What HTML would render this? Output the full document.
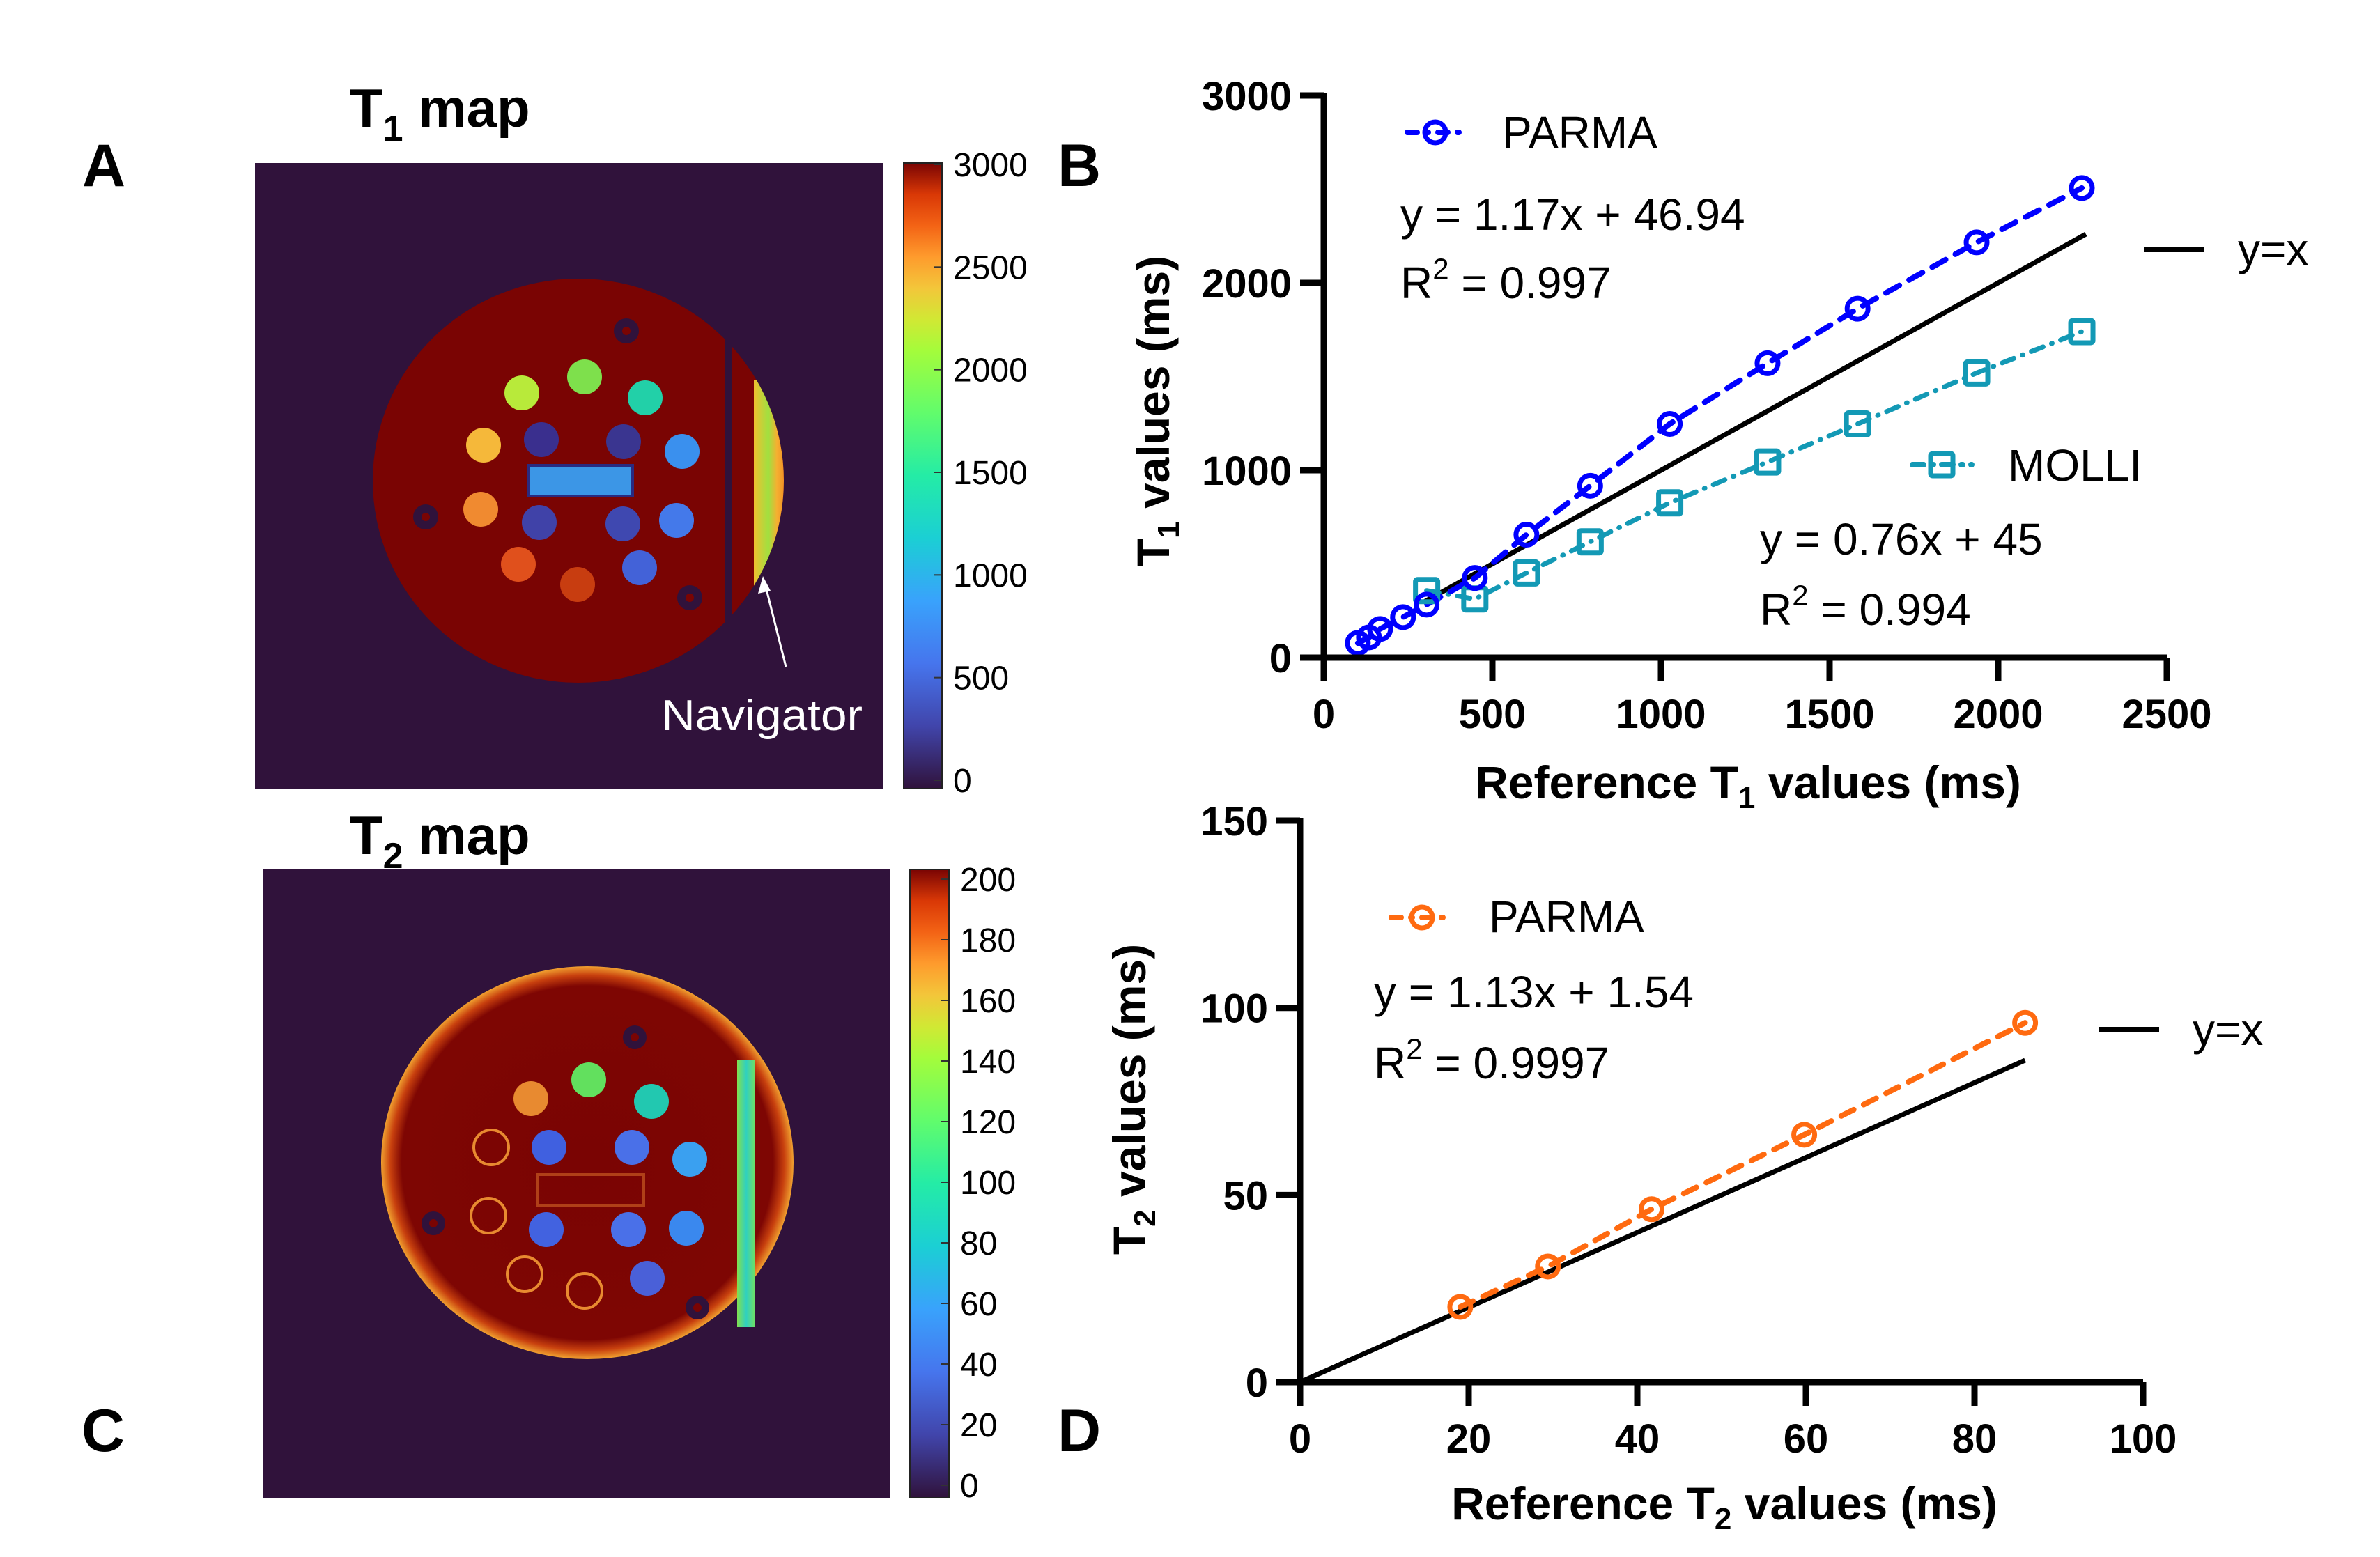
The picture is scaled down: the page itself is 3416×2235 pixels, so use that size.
<!DOCTYPE html>
<html><head><meta charset="utf-8"><style>
html,body{margin:0;padding:0;background:#fff;}
svg{display:block;font-family:"Liberation Sans",sans-serif;}
</style></head><body>
<svg id="fig" width="3416" height="2235" viewBox="0 0 3416 2235" xmlns="http://www.w3.org/2000/svg">
<defs>
<linearGradient id="turbo" x1="0" y1="1" x2="0" y2="0">
<stop offset="0" stop-color="#30123b"/><stop offset="0.1" stop-color="#4145ab"/><stop offset="0.2" stop-color="#4675ed"/><stop offset="0.3" stop-color="#39a2fc"/><stop offset="0.4" stop-color="#1bcfd4"/><stop offset="0.5" stop-color="#24eca6"/><stop offset="0.6" stop-color="#61fc6c"/><stop offset="0.7" stop-color="#a4fc3b"/><stop offset="0.75" stop-color="#d1e834"/><stop offset="0.8" stop-color="#f3c63a"/><stop offset="0.85" stop-color="#fe9b2d"/><stop offset="0.9" stop-color="#f36315"/><stop offset="0.95" stop-color="#d93806"/><stop offset="1" stop-color="#7a0403"/>
</linearGradient>
<radialGradient id="t2rim" cx="0.5" cy="0.5" r="0.5">
<stop offset="0" stop-color="#7a0403"/><stop offset="0.9" stop-color="#7e0603"/><stop offset="0.955" stop-color="#c8400e"/><stop offset="1" stop-color="#f0a030"/>
</radialGradient>
<linearGradient id="nav1" x1="0" y1="0" x2="1" y2="0">
<stop offset="0" stop-color="#f0c030"/><stop offset="0.35" stop-color="#a0e040"/><stop offset="0.55" stop-color="#f5b030"/><stop offset="1" stop-color="#e86018"/>
</linearGradient>
<linearGradient id="nav2" x1="0" y1="0" x2="1" y2="0">
<stop offset="0" stop-color="#80e050"/><stop offset="0.5" stop-color="#30d0c0"/><stop offset="1" stop-color="#70e060"/>
</linearGradient>
<clipPath id="clipT1main"><rect x="300" y="300" width="741" height="800"/></clipPath>
<clipPath id="clipT1side"><rect x="1050" y="300" width="200" height="800"/></clipPath>
<clipPath id="clipEll"><ellipse cx="830" cy="690" rx="295" ry="290"/></clipPath>
</defs>

<text x="118" y="267" font-size="86" font-weight="bold">A</text>
<text x="1518" y="267" font-size="86" font-weight="bold">B</text>
<text x="117" y="2083" font-size="86" font-weight="bold">C</text>
<text x="1518" y="2083" font-size="86" font-weight="bold">D</text>

<g>
<text x="502" y="182" font-size="78" font-weight="bold">T<tspan font-size="52" dy="20">1</tspan><tspan dy="-20"> map</tspan></text>
<rect x="366" y="234" width="901" height="898" fill="#30123b"/>
<ellipse cx="830" cy="690" rx="295" ry="290" fill="#7a0403" clip-path="url(#clipT1main)"/>
<ellipse cx="830" cy="690" rx="295" ry="290" fill="#7a0403" clip-path="url(#clipT1side)"/>
<rect x="1082" y="545" width="60" height="310" fill="url(#nav1)" clip-path="url(#clipEll)"/>
<g id="t1vials"></g>
<line x1="1128" y1="957" x2="1098" y2="838" stroke="#fff" stroke-width="3"/>
<polygon points="1095,827 1088,852 1106,848" fill="#fff"/>
<text x="949" y="1048" font-size="62" fill="#fff" textLength="289" lengthAdjust="spacingAndGlyphs">Navigator</text>
<rect x="1297" y="234" width="55" height="898" fill="url(#turbo)" stroke="#222" stroke-width="2"/>
<g id="t1cb"></g>
</g>

<g>
<text x="502" y="1226" font-size="78" font-weight="bold">T<tspan font-size="52" dy="20">2</tspan><tspan dy="-20"> map</tspan></text>
<rect x="377" y="1248" width="900" height="902" fill="#30123b"/>
<ellipse cx="843" cy="1669" rx="296" ry="282" fill="url(#t2rim)"/>
<rect x="1058" y="1522" width="26" height="383" fill="url(#nav2)"/>
<rect x="771" y="1686" width="153" height="44" fill="none" stroke="#b04018" stroke-width="4"/>
<g id="t2vials"></g>
<rect x="1306" y="1248" width="56" height="902" fill="url(#turbo)" stroke="#222" stroke-width="2"/>
<g id="t2cb"></g>
</g>

<g id="chartB"></g>
<g id="chartD"></g>
</svg>
<script>
const t1RefParma = [101,134,167,235,305,448,601,790,1026,1316,1583,1936,2248];
const t1Parma = [78,108,153,216,283,425,656,917,1247,1571,1862,2216,2506];
const t1RefMolli = [305,448,601,790,1026,1316,1583,1936,2248];
const t1Molli = [358,313,452,618,826,1044,1247,1519,1740];
const t1IdentityRange = [300,2260];
const t1XTicks = [0,500,1000,1500,2000,2500];
const t1YTicks = [0,1000,2000,3000];
const t2Ref = [19.0,29.4,41.7,59.8,86.0];
const t2Parma = [20.1,30.9,46.2,66.1,96.0];
const t2IdentityRange = [0,86];
const t2XTicks = [0,20,40,60,80,100];
const t2YTicks = [0,50,100,150];
const t1CbLabels = [3000,2500,2000,1500,1000,500,0];
const t2CbLabels = [200,180,160,140,120,100,80,60,40,20,0];

const NS = "http://www.w3.org/2000/svg";
function mk(tag, attrs, parent){
  const e = document.createElementNS(NS, tag);
  for (const k in attrs) e.setAttribute(k, attrs[k]);
  parent.appendChild(e);
  return e;
}
const bx = v => 1900 + v * 0.484;
const by = v => 944 - v * 0.269;
const dx = v => 1866 + v * 12.1;
const dy = v => 1984 - v * 5.373;

function drawAxes(g, fx, fy, xt, yt, xMax, yMax, xMin0, prefix){
  const x0 = fx(0), y0 = fy(0);
  let e = mk('line', {x1:x0-34, y1:y0, x2:fx(xMax), y2:y0, stroke:'#000','stroke-width':9}, g);
  
  
  e = mk('line', {x1:x0, y1:fy(yMax)-4, x2:x0, y2:y0+34, stroke:'#000','stroke-width':9}, g);
  
  
  xt.forEach(v => {
    const t = mk('line', {x1:fx(v), y1:y0, x2:fx(v), y2:y0+34, stroke:'#000','stroke-width':9}, g);
    
    
    const l = mk('text', {x:fx(v), y:y0+101, 'font-size':58, 'font-weight':'bold', 'text-anchor':'middle'}, g);
    l.textContent = v;
    
    
  });
  yt.forEach(v => {
    const t = mk('line', {x1:x0-34, y1:fy(v), x2:x0, y2:fy(v), stroke:'#000','stroke-width':9}, g);
    
    
    const l = mk('text', {x:x0-46, y:fy(v)+21, 'font-size':58, 'font-weight':'bold', 'text-anchor':'end'}, g);
    l.textContent = v;
    
    
  });
}
function polyline(g, xs, ys, fx, fy, attrs, name){
  const pts = xs.map((x,i) => fx(x) + ',' + fy(ys[i])).join(' ');
  const p = mk('polyline', Object.assign({points:pts, fill:'none'}, attrs), g);
  
  
}
function circles(g, xs, ys, fx, fy, color, name){
  xs.forEach((x,i) => {
    const c = mk('circle', {cx:fx(x), cy:fy(ys[i]), r:15, fill:'none', stroke:color, 'stroke-width':7}, g);
    
    
  });
}
function squares(g, xs, ys, fx, fy, color, name){
  xs.forEach((x,i) => {
    const s = mk('rect', {x:fx(x)-16, y:fy(ys[i])-16, width:32, height:32, rx:3, fill:'none', stroke:color, 'stroke-width':7}, g);
    
    
  });
}
function text(g, x, y, size, str, weight, name, extra){
  const t = mk('text', Object.assign({x:x, y:y, 'font-size':size, 'font-weight':weight||'normal'}, extra||{}), g);
  t.innerHTML = str;
  
  
  return t;
}

const gB = document.getElementById('chartB');
const BLUE = '#0000ff', TEAL = '#1399b5', ORANGE = '#ff6a10';
polyline(gB, t1IdentityRange, t1IdentityRange, bx, by, {stroke:'#000','stroke-width':7}, 't1-identity-line');
polyline(gB, t1RefMolli, t1Molli, bx, by, {stroke:TEAL,'stroke-width':7,'stroke-dasharray':'18 13 1 13','stroke-linecap':'round'}, 'molli-line');
polyline(gB, t1RefParma, t1Parma, bx, by, {stroke:BLUE,'stroke-width':8,'stroke-dasharray':'22 16','stroke-linecap':'round'}, 'parma-t1-line');
squares(gB, t1RefMolli, t1Molli, bx, by, TEAL, 'molli-point');
circles(gB, t1RefParma, t1Parma, bx, by, BLUE, 'parma-t1-point');
drawAxes(gB, bx, by, t1XTicks, t1YTicks, 2500, 3000, 0, 't1-chart');
text(gB, 2509, 1146, 66, 'Reference T<tspan font-size="44" dy="14">1</tspan><tspan dy="-14"> values (ms)</tspan>', 'bold', 't1-x-axis-title', {'text-anchor':'middle'});
text(gB, 0, 0, 66, 'T<tspan font-size="44" dy="14">1</tspan><tspan dy="-14"> values (ms)</tspan>', 'bold', 't1-y-axis-title', {'text-anchor':'middle', transform:'translate(1678,590) rotate(-90)'});
let lg = mk('g', {}, gB);


mk('line', {x1:2020, y1:190, x2:2102, y2:190, stroke:BLUE, 'stroke-width':8, 'stroke-dasharray':'14 14 2 14', 'stroke-linecap':'round'}, lg);
mk('circle', {cx:2060, cy:190, r:15, fill:'none', stroke:BLUE, 'stroke-width':7}, lg);
text(lg, 2156, 212, 64, 'PARMA', 'normal', 'legend-parma-t1-label');
text(gB, 2010, 330, 64, 'y = 1.17x + 46.94', 'normal', 'parma-t1-equation');
text(gB, 2010, 428, 64, 'R<tspan font-size="42" dy="-28">2</tspan><tspan dy="28"> = 0.997</tspan>', 'normal', 'parma-t1-r2');
lg = mk('g', {}, gB);


mk('line', {x1:3077, y1:358, x2:3163, y2:358, stroke:'#000', 'stroke-width':8}, lg);
text(lg, 3212, 380, 64, 'y=x', 'normal', 'legend-identity-t1-label');
lg = mk('g', {}, gB);


mk('line', {x1:2745, y1:667, x2:2830, y2:667, stroke:TEAL, 'stroke-width':8, 'stroke-dasharray':'16 12 2 12', 'stroke-linecap':'round'}, lg);
mk('rect', {x:2771, y:651, width:32, height:32, rx:3, fill:'none', stroke:TEAL, 'stroke-width':7}, lg);
text(lg, 2882, 690, 64, 'MOLLI', 'normal', 'legend-molli-label');
text(gB, 2526, 796, 64, 'y = 0.76x + 45', 'normal', 'molli-equation');
text(gB, 2526, 897, 64, 'R<tspan font-size="42" dy="-28">2</tspan><tspan dy="28"> = 0.994</tspan>', 'normal', 'molli-r2');

const gD = document.getElementById('chartD');
polyline(gD, t2IdentityRange, t2IdentityRange, dx, dy, {stroke:'#000','stroke-width':7}, 't2-identity-line');
polyline(gD, t2Ref, t2Parma, dx, dy, {stroke:ORANGE,'stroke-width':8,'stroke-dasharray':'20 16','stroke-linecap':'round'}, 'parma-t2-line');
circles(gD, t2Ref, t2Parma, dx, dy, ORANGE, 'parma-t2-point');
drawAxes(gD, dx, dy, t2XTicks, t2YTicks, 100, 150, 0, 't2-chart');
text(gD, 2475, 2181, 66, 'Reference T<tspan font-size="44" dy="14">2</tspan><tspan dy="-14"> values (ms)</tspan>', 'bold', 't2-x-axis-title', {'text-anchor':'middle'});
text(gD, 0, 0, 66, 'T<tspan font-size="44" dy="14">2</tspan><tspan dy="-14"> values (ms)</tspan>', 'bold', 't2-y-axis-title', {'text-anchor':'middle', transform:'translate(1644,1578) rotate(-90)'});
lg = mk('g', {}, gD);


mk('line', {x1:1997, y1:1317, x2:2083, y2:1317, stroke:ORANGE, 'stroke-width':8, 'stroke-dasharray':'14 14 2 14', 'stroke-linecap':'round'}, lg);
mk('circle', {cx:2041, cy:1317, r:15, fill:'none', stroke:ORANGE, 'stroke-width':7}, lg);
text(lg, 2137, 1338, 64, 'PARMA', 'normal', 'legend-parma-t2-label');
text(gD, 1972, 1446, 64, 'y = 1.13x + 1.54', 'normal', 'parma-t2-equation');
text(gD, 1972, 1548, 64, 'R<tspan font-size="42" dy="-28">2</tspan><tspan dy="28"> = 0.9997</tspan>', 'normal', 'parma-t2-r2');
lg = mk('g', {}, gD);


mk('line', {x1:3013, y1:1478, x2:3099, y2:1478, stroke:'#000', 'stroke-width':8}, lg);
text(lg, 3147, 1500, 64, 'y=x', 'normal', 'legend-identity-t2-label');

function colorbar(gid, labels, top, bottom, x, prefix){
  const g = document.getElementById(gid);
  labels.forEach((v,i) => {
    const y = top + (bottom - top) * i / (labels.length - 1);
    const t = mk('line', {x1:x-14, y1:y, x2:x-4, y2:y, stroke:'#333','stroke-width':2}, g);
    
    
    const l = mk('text', {x:x+14, y:y+17, 'font-size':48}, g);
    l.textContent = v;
    
    
  });
}
colorbar('t1cb', t1CbLabels, 236, 1120, 1354, 't1-colorbar');
colorbar('t2cb', t2CbLabels, 1262, 2132, 1364, 't2-colorbar');

const t1VialX = [839,749,926,694,777,895,979,690,774,894,971,744,829,918];
const t1VialY = [541,564,571,639,631,634,648,731,750,752,747,810,839,815];
const t1VialC = ['#7ee04c','#b8ea3a','#22d0a8','#f5b83a','#3a2f8e','#3a3590','#3a90ee','#f08a30','#4042a8','#3f48b0','#4479ea','#e0501c','#c83d10','#4362d8'];
const gv1 = document.getElementById('t1vials');
t1VialX.forEach((x,i) => {
  const c = mk('circle', {cx:x, cy:t1VialY[i], r:25, fill:t1VialC[i]}, gv1);
  
  
});
let rr = mk('rect', {x:759, y:668, width:149, height:44, fill:'#3c96e6', stroke:'#2a2a80', 'stroke-width':4}, gv1);


[[899,475],[611,742],[990,858]].forEach(p => {
  const c = mk('circle', {cx:p[0], cy:p[1], r:18, fill:'#30123b'}, gv1);
  
  
  mk('circle', {cx:p[0], cy:p[1], r:6, fill:'#7a0403'}, gv1);
});
const t2VialX = [845,935,788,907,990,784,902,985,929,762];
const t2VialY = [1550,1581,1647,1647,1664,1765,1765,1763,1835,1577];
const t2VialC = ['#62e05e','#22c8b0','#4060e0','#4a70e8','#3aa0f0','#4262e0','#4a70e8','#3a88ee','#4a60d8','#e88a30'];
const gv2 = document.getElementById('t2vials');
t2VialX.forEach((x,i) => {
  const c = mk('circle', {cx:x, cy:t2VialY[i], r:25, fill:t2VialC[i]}, gv2);
  
  
});
[[705,1647],[701,1745],[753,1829],[839,1853]].forEach(p => {
  const c = mk('circle', {cx:p[0], cy:p[1], r:25, fill:'none', stroke:'#e88a30', 'stroke-width':4}, gv2);
  
  
});
[[911,1489],[622,1756],[1001,1877]].forEach(p => {
  const c = mk('circle', {cx:p[0], cy:p[1], r:17, fill:'#30123b'}, gv2);
  
  
  mk('circle', {cx:p[0], cy:p[1], r:6, fill:'#7a0403'}, gv2);
});
</script>
</body></html>
